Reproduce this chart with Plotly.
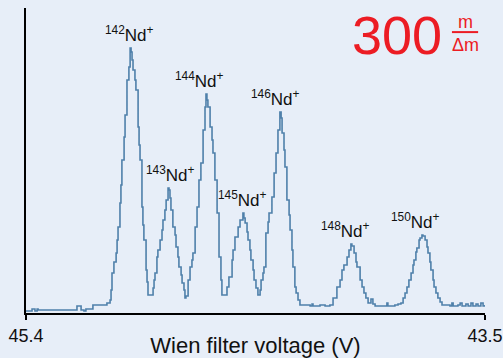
import plotly.graph_objects as go

# Wien filter voltage (V) and detector signal (arbitrary units)
voltage = [45.400, 45.375, 45.363, 45.354, 45.350, 45.201, 45.189, 45.181, 45.172, 45.160,
           45.152, 45.123, 45.065, 45.052, 45.048, 45.044, 45.036, 45.027, 45.023, 45.019,
           45.011, 45.007, 45.003, 44.994, 44.990, 44.982, 44.974, 44.969, 44.965, 44.961,
           44.957, 44.949, 44.945, 44.936, 44.932, 44.928, 44.920, 44.916, 44.912, 44.903,
           44.899, 44.895, 44.878, 44.874, 44.870, 44.866, 44.858, 44.854, 44.845, 44.837,
           44.833, 44.825, 44.820, 44.812, 44.808, 44.804, 44.800, 44.792, 44.783, 44.779,
           44.771, 44.767, 44.758, 44.754, 44.746, 44.742, 44.738, 44.729, 44.721, 44.713,
           44.709, 44.700, 44.692, 44.684, 44.676, 44.667, 44.659, 44.655, 44.651, 44.647,
           44.638, 44.630, 44.626, 44.618, 44.609, 44.601, 44.593, 44.589, 44.572, 44.568,
           44.560, 44.547, 44.543, 44.535, 44.522, 44.514, 44.502, 44.498, 44.493, 44.485,
           44.481, 44.473, 44.469, 44.460, 44.456, 44.448, 44.440, 44.431, 44.427, 44.419,
           44.415, 44.407, 44.398, 44.394, 44.382, 44.373, 44.365, 44.357, 44.349, 44.344,
           44.340, 44.332, 44.328, 44.320, 44.311, 44.307, 44.299, 44.295, 44.287, 44.282,
           44.274, 44.266, 44.224, 44.216, 44.212, 44.183, 44.162, 44.142, 44.129, 44.113,
           44.100, 44.092, 44.084, 44.071, 44.063, 44.055, 44.051, 44.042, 44.034, 44.030,
           44.017, 44.009, 44.001, 43.993, 43.984, 43.972, 43.964, 43.955, 43.914, 43.906,
           43.902, 43.873, 43.860, 43.848, 43.839, 43.831, 43.823, 43.815, 43.806, 43.798,
           43.794, 43.786, 43.782, 43.773, 43.769, 43.761, 43.757, 43.748, 43.740, 43.736,
           43.728, 43.724, 43.715, 43.711, 43.703, 43.695, 43.686, 43.678, 43.645, 43.637,
           43.632, 43.612, 43.603, 43.595, 43.579, 43.570, 43.558, 43.550, 43.537, 43.529,
           43.517, 43.508, 43.500]
signal = [2, 4, 2, 4, 3, 3, 7, 7, 3, 2,
          4, 8, 10, 13, 23, 40, 51, 60, 73, 86,
          110, 128, 153, 176, 198, 233, 246, 265, 261, 253,
          243, 233, 223, 186, 168, 153, 106, 88, 73, 43,
          31, 18, 18, 25, 33, 40, 56, 63, 73, 83,
          93, 103, 113, 125, 123, 115, 103, 86, 78, 66,
          56, 46, 38, 30, 23, 15, 17, 33, 46, 53,
          60, 86, 106, 133, 150, 183, 206, 219, 213, 206,
          186, 173, 160, 133, 100, 56, 33, 18, 18, 26,
          36, 53, 63, 76, 86, 93, 100, 95, 90, 81,
          73, 63, 53, 43, 33, 25, 18, 23, 33, 40,
          46, 80, 91, 100, 116, 140, 160, 183, 201, 195,
          180, 163, 146, 113, 98, 83, 63, 46, 26, 20,
          13, 8, 7, 9, 7, 8, 7, 8, 15, 26,
          33, 43, 48, 56, 63, 69, 67, 60, 51, 46,
          33, 26, 20, 15, 10, 14, 9, 7, 7, 10,
          7, 8, 9, 10, 15, 20, 26, 33, 40, 48,
          53, 61, 65, 73, 75, 78, 77, 73, 66, 60,
          51, 43, 33, 26, 20, 15, 11, 8, 7, 10,
          7, 8, 10, 7, 9, 7, 10, 7, 9, 7,
          10, 7, 8]

# Peak labels
peak_mass = ["142", "143", "144", "145", "146", "148", "150"]
peak_voltage = [44.969, 44.812, 44.655, 44.502, 44.349, 44.055, 43.761]
peak_signal = [265, 125, 219, 100, 201, 69, 78]
label_xshift = [-1, 2, -6, 0, -4, -5, -6]

x_ticks = [45.4, 43.5]
x_tick_text = ["45.4", "43.5"]

BG = "#e7eef8"
LINE = "#4f80aa"
RED = "#ec1c24"
FONT = "Liberation Sans, Arial, Helvetica, sans-serif"

fig = go.Figure()
fig.add_trace(go.Scatter(
    x=voltage, y=signal, mode="lines", line=dict(color=LINE, width=1.6, shape="hv"),
    hoverinfo="skip", showlegend=False))

for m, vx, vy, xs in zip(peak_mass, peak_voltage, peak_signal, label_xshift):
    fig.add_annotation(x=vx, y=vy, xref="x", yref="y", text=f"<sup>{m}</sup>Nd<sup>+</sup>",
                       showarrow=False, yanchor="bottom", xanchor="center", yshift=1, xshift=xs,
                       font=dict(family=FONT, size=17, color="#111111"))

# resolution label (paper coords relative to plot area)
fig.add_annotation(x=0.911, y=0.912, xref="paper", yref="paper", text="300",
                   showarrow=False, xanchor="right", yanchor="middle",
                   font=dict(family=FONT, size=54, color=RED))
fig.add_annotation(x=0.958, y=0.955, xref="paper", yref="paper", text="m",
                   showarrow=False, xanchor="center", yanchor="middle",
                   font=dict(family=FONT, size=18, color=RED))
fig.add_annotation(x=0.958, y=0.878, xref="paper", yref="paper", text="Δm",
                   showarrow=False, xanchor="center", yanchor="middle",
                   font=dict(family=FONT, size=18, color=RED))
fig.add_shape(type="line", xref="paper", yref="paper",
              x0=0.928, x1=0.985, y0=0.921, y1=0.921,
              line=dict(color=RED, width=2))

fig.update_layout(
    width=503, height=358,
    margin=dict(l=26, r=18, t=8, b=45, autoexpand=False),
    paper_bgcolor=BG, plot_bgcolor=BG,
    font=dict(family=FONT, color="#111111"),
    xaxis=dict(range=[45.4, 43.5], tickvals=x_ticks, ticktext=x_tick_text,
               showline=True, linecolor="black", linewidth=2, ticks="outside",
               ticklen=5, tickwidth=2, tickcolor="black", showgrid=False, zeroline=False,
               automargin=False,
               tickfont=dict(size=18, family=FONT, color="#111111"),
               title=dict(text="Wien filter voltage (V)", standoff=0,
                          font=dict(size=22, family=FONT, color="#111111"))),
    yaxis=dict(range=[0, 305], showline=True, linecolor="black", linewidth=2,
               showticklabels=False, ticks="", showgrid=False, zeroline=False,
               automargin=False),
)

fig.write_html("out.html")
